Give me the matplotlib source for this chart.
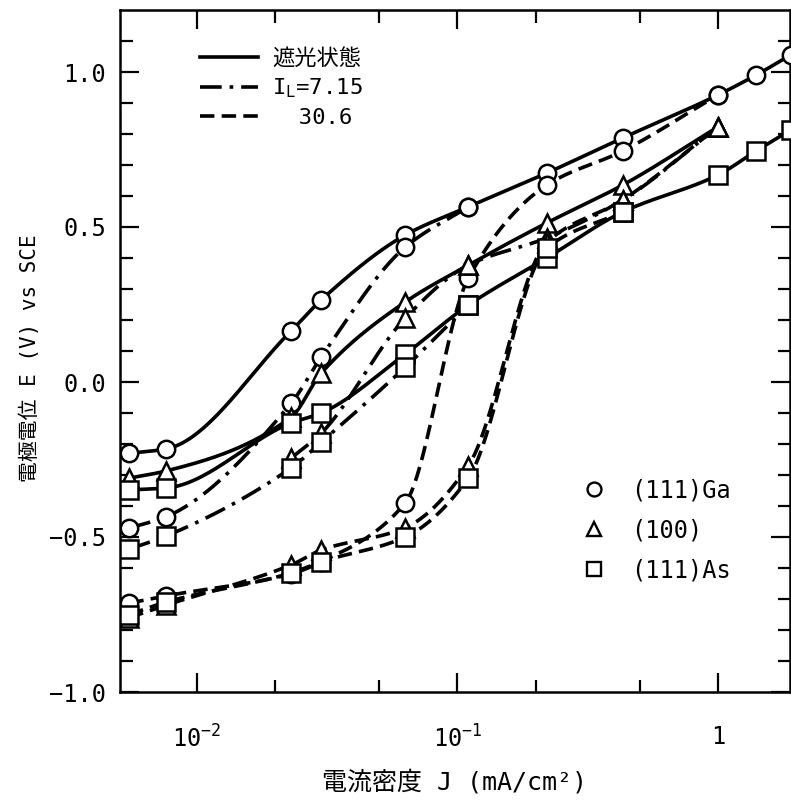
import numpy as np
import matplotlib
matplotlib.use("Agg")
import matplotlib.pyplot as plt
from matplotlib.lines import Line2D
from matplotlib.ticker import FixedLocator, NullFormatter

plt.rcParams['font.family'] = ['DejaVu Sans Mono', 'Noto Sans CJK JP']
plt.rcParams['mathtext.fontset'] = 'custom'
plt.rcParams['mathtext.rm'] = 'DejaVu Sans Mono'
plt.rcParams['mathtext.default'] = 'regular'

# ---------------- data ----------------
J = [0.0055, 0.0076, 0.023, 0.03, 0.063, 0.11, 0.22, 0.43, 1.0, 1.4, 1.9]

# (111)Ga
ga_dark = [-0.23, -0.216, 0.165, 0.265, 0.474, 0.565, 0.674, 0.787, 0.926, 0.99, 1.055]
ga_715 = [-0.471, -0.435, -0.068, 0.081, 0.435, 0.565]
ga_306 = [-0.713, -0.69, -0.619, -0.58, -0.39, 0.335, 0.635, 0.745, 0.926]

# (100)
s100_dark = [-0.31, -0.287, -0.113, 0.029, 0.258, 0.377, 0.513, 0.635, 0.823]
s100_715_J = [0.023, 0.03, 0.063, 0.11, 0.22, 0.43, 1.0]
s100_715 = [-0.245, -0.165, 0.206, 0.377, 0.465, 0.587, 0.823]
s100_306 = [-0.76, -0.72, -0.59, -0.542, -0.47, -0.27, 0.45, 0.587, 0.823]

# (111)As
as_dark = [-0.348, -0.342, -0.132, -0.10, 0.09, 0.248, 0.40, 0.548, 0.668, 0.745, 0.813]
as_715 = [-0.539, -0.497, -0.277, -0.194, 0.048, 0.248]
as_306 = [-0.75, -0.71, -0.616, -0.58, -0.50, -0.31, 0.432, 0.548]

legend_lines = ['遮光状態', 'I$_L$=7.15', '  30.6']
legend_faces = ['(111)Ga', '(100)', '(111)As']
xtick_vals = [0.01, 0.1, 1]
xtick_labels = ['10$^{-2}$', '10$^{-1}$', '1']
xminor_vals = [0.02, 0.05, 0.2, 0.5]
ytick_vals = [-1.0, -0.5, 0.0, 0.5, 1.0]
ytick_labels = ['\u22121.0', '\u22120.5', '0.0', '0.5', '1.0']


def pchip(x, y, xn):
    x = np.asarray(x, float); y = np.asarray(y, float)
    h = np.diff(x); d = np.diff(y) / h
    n = len(x)
    m = np.zeros(n)
    for k in range(1, n - 1):
        if d[k - 1] * d[k] <= 0:
            m[k] = 0.0
        else:
            w1 = 2 * h[k] + h[k - 1]
            w2 = h[k] + 2 * h[k - 1]
            m[k] = (w1 + w2) / (w1 / d[k - 1] + w2 / d[k])
    m[0] = d[0]
    m[-1] = d[-1]
    idx = np.clip(np.searchsorted(x, xn) - 1, 0, n - 2)
    t = (xn - x[idx]) / h[idx]
    h00 = 2 * t**3 - 3 * t**2 + 1
    h10 = t**3 - 2 * t**2 + t
    h01 = -2 * t**3 + 3 * t**2
    h11 = t**3 - t**2
    return h00 * y[idx] + h10 * h[idx] * m[idx] + h01 * y[idx + 1] + h11 * h[idx] * m[idx + 1]


fig = plt.figure(figsize=(7.91, 8.0), dpi=100)
ax = fig.add_axes([120 / 791, 108 / 800, 670 / 791, 682 / 800])
ax.set_xscale('log')

LW = 2.6
styles = {
    'dark': '-',
    '715': (0, (6, 2.2, 1, 2.2)),
    '306': (0, (4, 2)),
}


def curve(jv, ev, style, marker):
    lx = np.log10(jv)
    xs = np.linspace(lx[0], lx[-1], 400)
    ys = pchip(lx, ev, xs)
    ax.plot(10**xs, ys, color='black', lw=LW, ls=styles[style], zorder=2,
            solid_capstyle='butt', dash_capstyle='butt')
    ax.plot(jv, ev, ls='none', marker=marker, ms=12.5, mfc='white', mec='black',
            mew=1.8, zorder=3)


curve(J[:len(ga_dark)], ga_dark, 'dark', 'o')
curve(J[:len(ga_715)], ga_715, '715', 'o')
curve(J[:len(ga_306)], ga_306, '306', 'o')
curve(J[:len(s100_dark)], s100_dark, 'dark', '^')
curve(s100_715_J, s100_715, '715', '^')
curve(J[:len(s100_306)], s100_306, '306', '^')
curve(J[:len(as_dark)], as_dark, 'dark', 's')
curve(J[:len(as_715)], as_715, '715', 's')
curve(J[:len(as_306)], as_306, '306', 's')

ax.set_xlim(10**(-2 - 77 / 260.5), 10**(-2 + 593 / 260.5))
ax.set_ylim(-1.0, 1.2)

ax.set_xticks(xtick_vals)
ax.set_xticklabels(xtick_labels)
ax.xaxis.set_minor_locator(FixedLocator(xminor_vals))
ax.xaxis.set_minor_formatter(NullFormatter())
ax.set_yticks(ytick_vals)
ax.set_yticklabels(ytick_labels)
ax.yaxis.set_minor_locator(FixedLocator([v / 10 for v in range(-9, 12) if v % 5 != 0]))

ax.tick_params(which='both', direction='in', top=True, right=True, width=1.6,
               labelsize=17)
ax.tick_params(which='major', length=14)
ax.tick_params(which='minor', length=9)
ax.tick_params(axis='x', which='major', pad=24)
ax.tick_params(axis='y', which='major', pad=10)
for s in ax.spines.values():
    s.set_linewidth(1.8)

ax.set_xlabel('電流密度 J (mA/cm²)', fontsize=18, labelpad=12)
ax.set_ylabel('電極電位 E (V) vs SCE', fontsize=15)
ax.yaxis.set_label_coords(-0.12, 0.49)

h1 = [Line2D([], [], color='black', lw=LW, ls=styles[k]) for k in ('dark', '715', '306')]
leg1 = ax.legend(h1, legend_lines, loc='upper left', bbox_to_anchor=(0.119, 0.944),
                 frameon=False, fontsize=16, handlelength=2.6, handletextpad=0.65,
                 labelspacing=0.34, borderpad=0, borderaxespad=0)
ax.add_artist(leg1)

h2 = [Line2D([], [], ls='none', marker=m, ms=10, mfc='white', mec='black', mew=1.7)
      for m in ('o', '^', 's')]
ax.legend(h2, legend_faces, loc='upper left', bbox_to_anchor=(0.69, 0.313),
          frameon=False, fontsize=17, handlelength=1.0, handletextpad=1.05,
          labelspacing=0.68, borderpad=0, borderaxespad=0)

fig.savefig('out.png', dpi=100)
